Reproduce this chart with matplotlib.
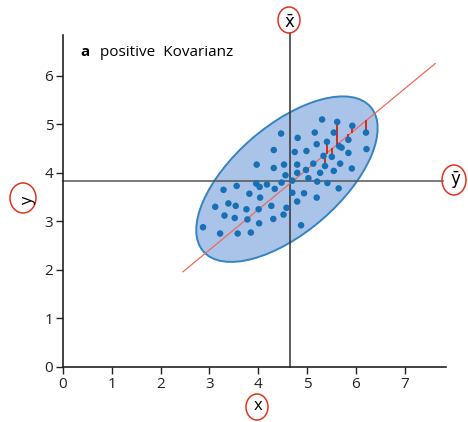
import numpy as np
import matplotlib.pyplot as plt
from matplotlib.patches import Ellipse

plt.rcParams['font.family'] = ['Open Sans', 'DejaVu Sans']
plt.rcParams['mathtext.fontset'] = 'dejavusans'

# Messpunkte (x, y)
xs = [5.31, 5.62, 5.93, 6.21, 4.47, 5.16, 5.55, 4.81, 5.85, 5.41,
      5.20, 5.66, 5.71, 6.22, 4.32, 4.75, 4.99, 5.85, 5.34, 5.51,
      3.97, 4.53, 4.80, 5.13, 5.68, 5.92, 4.32, 4.98, 5.37, 4.80,
      5.27, 5.55, 4.56, 5.03, 4.70, 5.21, 5.42, 4.48, 3.96, 4.18,
      4.03, 3.56, 3.29, 4.34, 5.65, 4.70, 4.94, 3.82, 4.04, 5.20,
      4.80, 3.39, 3.12, 3.54, 3.76, 4.27, 4.58, 4.01, 3.31, 3.52,
      3.78, 4.52, 4.31, 4.02, 4.88, 2.87, 3.22, 3.58, 3.85]
ys = [5.10, 5.05, 4.97, 4.83, 4.81, 4.83, 4.83, 4.72, 4.68, 4.64,
      4.59, 4.55, 4.52, 4.49, 4.47, 4.43, 4.45, 4.41, 4.35, 4.33,
      4.17, 4.17, 4.17, 4.19, 4.19, 4.09, 4.10, 4.06, 4.14, 4.00,
      4.00, 4.04, 3.95, 3.89, 3.84, 3.82, 3.79, 3.80, 3.78, 3.76,
      3.71, 3.73, 3.65, 3.67, 3.68, 3.59, 3.58, 3.57, 3.49, 3.49,
      3.41, 3.37, 3.30, 3.32, 3.25, 3.32, 3.28, 3.25, 3.12, 3.07,
      3.04, 3.14, 3.05, 2.96, 2.92, 2.88, 2.75, 2.75, 2.77]
resid_idx = [1, 2, 3, 8, 9, 19, 28]

x_mean = 4.65
y_mean = 3.84

# Regressionsgerade
slope = 0.83
y_at_mean = 3.78
line_x = [2.46, 7.63]

# Ellipse
ell_center = (4.59, 3.87)
ell_w, ell_h, ell_angle = 4.54, 2.2, 41

fig = plt.figure(figsize=(4.68, 4.22), dpi=100)
ax = fig.add_axes([63 / 468, 1 - 367 / 422, 383 / 468, 332 / 422])

ax.add_patch(Ellipse(ell_center, ell_w, ell_h, angle=ell_angle,
                     facecolor='#a9c3e9', edgecolor='#3584c0', lw=1.4, zorder=1))

ax.axvline(x_mean, ymin=0, ymax=6.89 / 6.84, color='#333333', lw=1.1, zorder=2, clip_on=False)
ax.plot([0, 7.79], [y_mean, y_mean], color='#555555', lw=1.1, zorder=2, clip_on=False)

lx = np.array(line_x)
ax.plot(lx, y_at_mean + slope * (lx - x_mean), color='#ee6a5a', lw=0.9, zorder=3)

for i in resid_idx:
    yl = y_at_mean + slope * (xs[i] - x_mean)
    ax.plot([xs[i], xs[i]], [ys[i], yl], color='#d8281c', lw=1.4, zorder=3)

ax.scatter(xs, ys, s=22, color='#1670b3', edgecolor='none', zorder=4)

ax.set_xlim(0, 7.85)
ax.set_ylim(0, 6.84)
ax.set_xticks(range(0, 8))
ax.set_yticks(range(0, 7))
for s in ['top', 'right']:
    ax.spines[s].set_visible(False)
for s in ['left', 'bottom']:
    ax.spines[s].set_linewidth(1.2)
    ax.spines[s].set_color('#222222')
ax.tick_params(direction='out', length=5, width=1, labelsize=11, colors='#222222', pad=2)

fig.text(80 / 468, 1 - 56 / 422, 'a', fontweight='bold', fontsize=11)
fig.text(100 / 468, 1 - 56 / 422, 'positive  Kovarianz', fontsize=11)

fig.text(290 / 468, 1 - 23 / 422, r'$\bar{\mathrm{x}}$', fontsize=12, ha='center', va='center')
fig.text(456 / 468, 1 - 180 / 422, r'$\bar{\mathrm{y}}$', fontsize=12, ha='center', va='center')
fig.text(28 / 468, 1 - 201 / 422, 'y', fontsize=12, ha='center', va='center', rotation=90)
fig.text(258 / 468, 1 - 406 / 422, 'x', fontsize=12, ha='center', va='center')

red = '#e2331f'
for cx, cy, w, h in [(289, 20, 22, 26), (454, 180, 24, 30), (23, 198, 26, 30), (257, 407, 22, 26)]:
    fig.add_artist(Ellipse((cx / 468, 1 - cy / 422), w / 468, h / 422,
                           transform=fig.transFigure, fill=False, ec=red, lw=1.1))

fig.savefig('out.png', dpi=100)
